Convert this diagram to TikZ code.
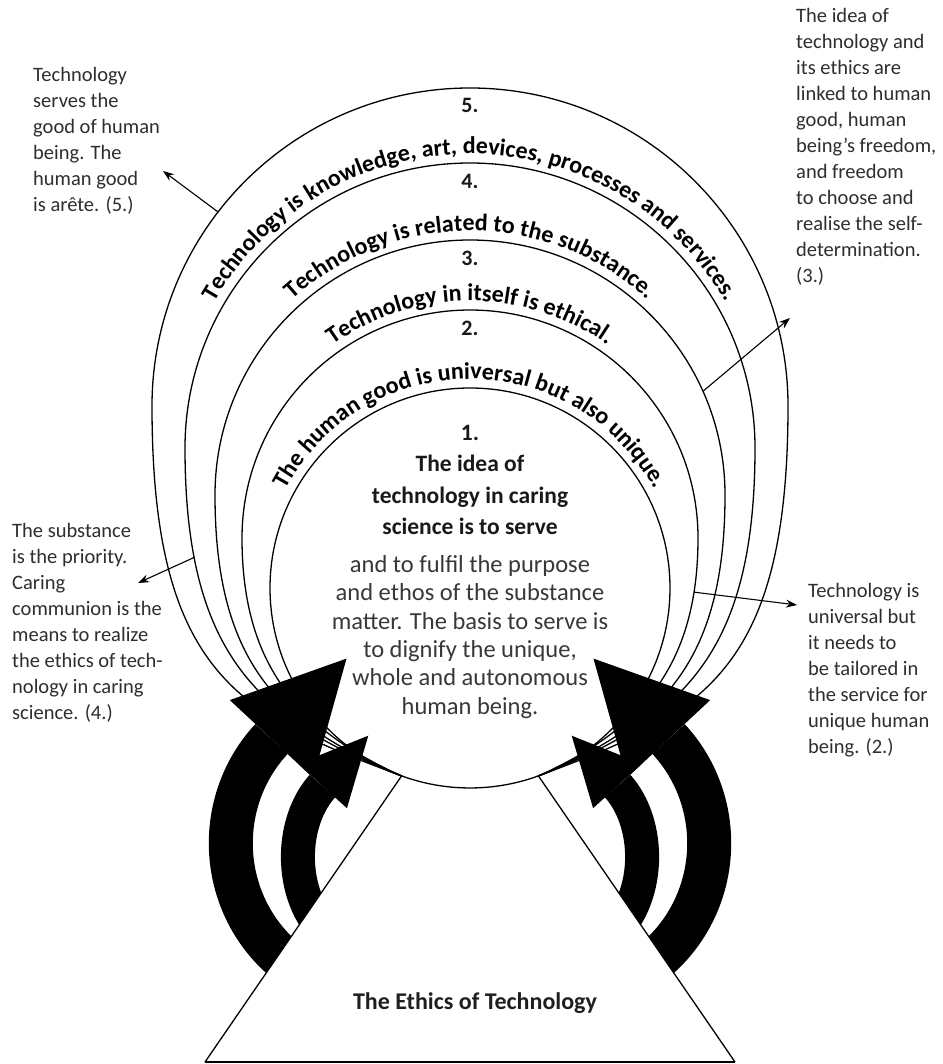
\documentclass[tikz,border=0pt]{standalone}
\usepackage{fontspec}
\setmainfont{Carlito}
\usetikzlibrary{arrows.meta,decorations.text,calc}
\tikzset{
  ring/.style={line width=1.3pt, draw=black},
  pointer/.style={line width=1.1pt, draw=black, -{Stealth[length=11pt,width=8pt]}},
  bigshaft/.style={line width=44pt, draw=black},
  smallshaft/.style={line width=34pt, draw=black},
  headfill/.style={fill=black},
  sidetext/.style={align=left, inner sep=0pt, anchor=north west, text=black!82, font=\fontsize{20.5}{26}\selectfont},
  coretextb/.style={align=center, inner sep=0pt, anchor=north, text=black!90, font=\bfseries\fontsize{23.5}{31.3}\selectfont},
  coretextr/.style={align=center, inner sep=0pt, anchor=north, text=black!78, font=\fontsize{24.5}{28.4}\selectfont},
  numlabel/.style={inner sep=0pt, text=black!90, font=\bfseries\fontsize{22}{22}\selectfont},
}
\newcommand{\arcfont}{\bfseries\fontsize{24}{24}\selectfont}
\newcommand{\ethArrows}{%
  \draw[bigshaft] ([shift={(245:145 and 150)}]375.8,-843.2)
     arc[start angle=245, end angle=136, x radius=145, y radius=150];
  \fill[headfill] (229.8,-700.1) -- (346.5,-658.6) -- (313.2,-777.9) -- cycle;
  \draw[smallshaft] ([shift={(235:64 and 90)}]361.9,-856.9)
     arc[start angle=235, end angle=128, x radius=64, y radius=90];
  \fill[headfill] (298.1,-763.8) -- (368.3,-735.7) -- (346.9,-808.2) -- cycle;
}
\begin{document}
\begin{tikzpicture}[x=1pt,y=1pt]
\useasboundingbox (0,0) rectangle (942,-1064);
\fill[white] (0,0) rectangle (942,-1064);

\coordinate (c1) at (470,-588);
\coordinate (c2) at (470,-538);
\coordinate (c3) at (470,-495);
\coordinate (c4) at (470,-448);
\coordinate (c5) at (470,-406);
\coordinate (A) at (401.6,-775.9);
\coordinate (B) at (538.4,-775.9);

% rings
\draw[ring] (A) .. controls +(-160,60) and +(0,-270) .. (152,-406)
   arc[start angle=180,end angle=0,radius=318]
   .. controls +(0,-270) and +(160,60) .. (B);
\draw[ring] (A) .. controls +(-140,55) and +(0,-210) .. (185,-448) coordinate[pos=0.8] (p4s)
   arc[start angle=180,end angle=0,radius=285]
   .. controls +(0,-210) and +(140,55) .. (B);
\draw[ring] (A) .. controls +(-120,50) and +(0,-170) .. (215,-495)
   arc[start angle=180,end angle=0,radius=255]
   .. controls +(0,-170) and +(120,50) .. (B);
\draw[ring] (A) .. controls +(-100,45) and +(0,-130) .. (242,-538)
   arc[start angle=180,end angle=0,radius=228]
   .. controls +(0,-130) and +(100,45) .. (B) coordinate[pos=0.15] (p2s);
\draw[ring] (c1) circle[radius=200];

% pointers
\coordinate (p5s) at ($(c5)+(142.4:318)$);
\coordinate (t5) at (163,-171);
\coordinate (p3s) at ($(c3)+(24:255)$);
\coordinate (t3) at (790,-318);
\coordinate (t4) at (138,-583);
\coordinate (t2) at (797,-605);
\draw[pointer] (p5s) -- (t5);
\draw[pointer] (p3s) -- (t3);
\draw[pointer] (p4s) -- (t4);
\draw[pointer] (p2s) -- (t2);

% black curved arrows
\ethArrows
\begin{scope}[xshift=940pt, xscale=-1]
\ethArrows
\end{scope}

% triangle
\coordinate (T1) at (205,-1062);
\coordinate (T2) at (735,-1062);
\fill[white] (T1) -- (A) -- (B) -- (T2) -- cycle;
\draw[ring] (A) arc[start angle=250, end angle=290, radius=200];
\draw[ring] (T1) -- (A);
\draw[ring] (B) -- (T2);
\draw[line width=2pt] (T1) -- (T2);

% curved texts
\path[decorate, decoration={text along path, text align=center,
  text={|\arcfont|Technology is knowledge, art, devices, processes and services.}}]
  ([shift={(174:294)}]c4) arc[start angle=174, end angle=6, radius=294];
\path[decorate, decoration={text along path, text align=center,
  text={|\arcfont|Technology is related to the substance.}}]
  ([shift={(172:264)}]c3) arc[start angle=172, end angle=8, radius=264];
\path[decorate, decoration={text along path, text align=center,
  text={|\arcfont|Technology in itself is ethical.}}]
  ([shift={(172:237)}]c2) arc[start angle=172, end angle=8, radius=237];
\path[decorate, decoration={text along path, text align=center,
  text={|\arcfont|The human good is universal but also unique.}}]
  ([shift={(174:209)}]c1) arc[start angle=174, end angle=6, radius=209];

\node[numlabel] (n5) at (470,-105) {5.};
\node[numlabel] (n4) at (470,-181) {4.};
\node[numlabel] (n3) at (470,-258) {3.};
\node[numlabel] (n2) at (470,-328) {2.};

% centre text
\node[coretextb] (coreb) at (470,-425) {1.\\The idea of\\technology in caring\\science is to serve};
\node[coretextr] (corer) at (470,-555) {and to fulfil the purpose\\and ethos of the substance\\matter. The basis to serve is\\to dignify the unique,\\whole and autonomous\\human being.};

% side texts
\node[sidetext] (s5) at (33,-67) {Technology\\serves the\\good of human\\being. The\\human good\\is arête. (5.)};
\node[sidetext] (s3) at (796,-8) {The idea of\\technology and\\its ethics are\\linked to human\\good, human\\being's freedom,\\and freedom\\to choose and\\realise the self-\\determination.\\(3.)};
\node[sidetext] (s4) at (12,-523) {The substance\\is the priority.\\Caring\\communion is the\\means to realize\\the ethics of tech-\\nology in caring\\science. (4.)};
\node[sidetext] (s2) at (808,-583) {Technology is\\universal but\\it needs to\\be tailored in\\the service for\\unique human\\being. (2.)};

\node[inner sep=0pt, text=black!88, font=\bfseries\fontsize{24}{24}\selectfont] (title) at (475,-1003) {The Ethics of Technology};
\end{tikzpicture}
\end{document}
